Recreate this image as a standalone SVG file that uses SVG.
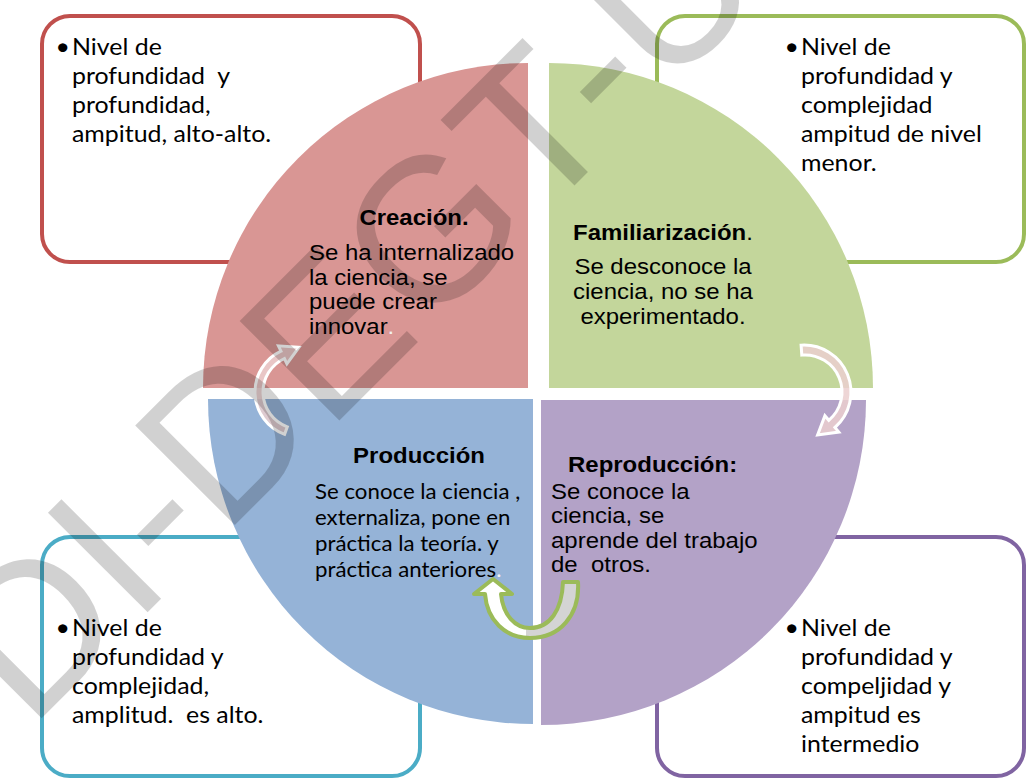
<svg xmlns="http://www.w3.org/2000/svg" width="1026" height="779" viewBox="0 0 1026 779">
<defs>
<style>
.box{fill:#fff;stroke-width:4}
.cal{font-family:Lato,"Noto Sans","Liberation Sans",sans-serif;font-size:23.5px;fill:#000}
.calb{font-family:Lato,"Noto Sans","Liberation Sans",sans-serif;font-size:21px;fill:#000}
.ar{font-family:"Liberation Sans",Arial,sans-serif;font-size:22px;fill:#000}
.arb{font-family:"Liberation Sans",Arial,sans-serif;font-size:22px;font-weight:bold;fill:#000}
.cyc{fill:#ebcfcf;fill-opacity:0.85;stroke:#fff;stroke-width:3}
.wm{font-family:"Liberation Sans",Arial,sans-serif;font-size:205px;fill:#000;fill-opacity:0.18}
</style>
<linearGradient id="ug" x1="0" y1="0" x2="1" y2="0">
<stop offset="0.5" stop-color="#ffffff"/>
<stop offset="0.5" stop-color="#d4d4d4"/>
</linearGradient>
</defs>
<rect width="1026" height="779" fill="#fff"/>

<g id="box-tl"><rect class="box" x="42" y="16" width="378" height="246" rx="28" stroke="#c0504d"/></g>
<g id="box-tr"><rect class="box" x="657" y="16" width="367" height="246" rx="28" stroke="#9bbb59"/></g>
<g id="box-bl"><rect class="box" x="42" y="537" width="378" height="239" rx="28" stroke="#4bacc6"/></g>
<g id="box-br"><rect class="box" x="657" y="537" width="367" height="239" rx="28" stroke="#8064a2"/></g>

<g id="creacion">
<path d="M528,388 L528,63 A325,325 0 0 0 203,388 Z" fill="#d99694"/>
<g transform="translate(414,0) scale(1.09,1)"><text class="arb" x="0" y="225" text-anchor="middle">Creación.</text></g>
<g transform="translate(309,0) scale(1.09,1)">
<text class="ar" x="0" y="260">Se ha internalizado</text>
<text class="ar" x="0" y="285">la ciencia, se</text>
<text class="ar" x="0" y="309">puede crear</text>
<text class="ar" x="0" y="334">innovar<tspan fill="#f2f2f2">.</tspan></text>
</g>
</g>

<g id="familiarizacion">
<path d="M549,388 L549,63 A324,325 0 0 1 873,388 Z" fill="#c3d69b"/>
<g transform="translate(573,0) scale(1.09,1)"><text class="arb" x="0" y="240">Familiarización<tspan font-weight="normal">.</tspan></text></g>
<g transform="translate(663,0) scale(1.09,1)">
<text class="ar" x="0" y="274" text-anchor="middle">Se desconoce la</text>
<text class="ar" x="0" y="299" text-anchor="middle">ciencia, no se ha</text>
<text class="ar" x="0" y="324" text-anchor="middle">experimentado.</text>
</g>
</g>

<g id="produccion">
<path d="M533,399 L208,399 A325,325 0 0 0 533,724 Z" fill="#95b3d7"/>
<g transform="translate(419,0) scale(1.09,1)"><text class="arb" x="0" y="463" text-anchor="middle">Producción</text></g>
<g transform="translate(315,0) scale(1.06,1)">
<text class="calb" x="0" y="499">Se conoce la ciencia ,</text>
<text class="calb" x="0" y="525">externaliza, pone en</text>
<text class="calb" x="0" y="551">práctica la teoría. y</text>
<text class="calb" x="0" y="577">práctica anteriores<tspan fill="#f2f2f2">.</tspan></text>
</g>
</g>

<g id="reproduccion">
<path d="M541,400 L866,400 A325,325 0 0 1 541,725 Z" fill="#b3a2c7"/>
<g transform="translate(568,0) scale(1.09,1)"><text class="arb" x="0" y="472">Reproducción:</text></g>
<g transform="translate(551,0) scale(1.09,1)">
<text class="ar" x="0" y="499">Se conoce la</text>
<text class="ar" x="0" y="523">ciencia, se</text>
<text class="ar" x="0" y="548">aprende del trabajo</text>
<text class="ar" x="0" y="572" xml:space="preserve">de  otros.</text>
</g>
</g>

<g id="text-tl" transform="translate(72,0) scale(1.06,1)">
<text class="cal" x="-2" y="55" text-anchor="end">•</text>
<text class="cal" x="0" y="55">Nivel de</text>
<text class="cal" x="0" y="84" xml:space="preserve">profundidad  y</text>
<text class="cal" x="0" y="113">profundidad,</text>
<text class="cal" x="0" y="142">ampitud, alto-alto.</text>
</g>
<g id="text-tr" transform="translate(801,0) scale(1.06,1)">
<text class="cal" x="-2" y="55" text-anchor="end">•</text>
<text class="cal" x="0" y="55">Nivel de</text>
<text class="cal" x="0" y="84">profundidad y</text>
<text class="cal" x="0" y="113">complejidad</text>
<text class="cal" x="0" y="142">ampitud de nivel</text>
<text class="cal" x="0" y="171">menor.</text>
</g>
<g id="text-bl" transform="translate(72,0) scale(1.06,1)">
<text class="cal" x="-2" y="636" text-anchor="end">•</text>
<text class="cal" x="0" y="636">Nivel de</text>
<text class="cal" x="0" y="665">profundidad y</text>
<text class="cal" x="0" y="694">complejidad,</text>
<text class="cal" x="0" y="723" xml:space="preserve">amplitud.  es alto.</text>
</g>
<g id="text-br" transform="translate(801,0) scale(1.06,1)">
<text class="cal" x="-2" y="636" text-anchor="end">•</text>
<text class="cal" x="0" y="636">Nivel de</text>
<text class="cal" x="0" y="665">profundidad y</text>
<text class="cal" x="0" y="694">compeljidad y</text>
<text class="cal" x="0" y="723">ampitud es</text>
<text class="cal" x="0" y="752">intermedio</text>
</g>

<g id="connectors">
<path class="cyc" d="M284.6,434.3 A45,45 0 0 1 281.0,351.2 L278.4,345.8 L299.0,347.2 L286.9,363.9 L284.4,358.5 A37,37 0 0 0 287.3,426.8 Z"/>
<path class="cyc" d="M801.1,345.2 A47,47 0 0 1 834.9,427.5 L838.8,432.1 L817.6,435.0 L824.9,415.7 L828.8,420.3 A37,37 0 0 0 801.8,355.1 Z"/>
<path d="M578,582 C580,615 560,638 530,638 C505,638 487,620 485,594 L474,594 L493,579 L512,594 L501,594 C503,615 515,628 530,628 C550,628 562,610 563,582 Z" fill="url(#ug)" stroke="#9bbb59" stroke-width="4" stroke-linejoin="round"/>
</g>

<g id="watermark">
<text class="wm" transform="translate(-75,835) rotate(-45)">UDI-DEGT-UNAN</text>
</g>
</svg>
